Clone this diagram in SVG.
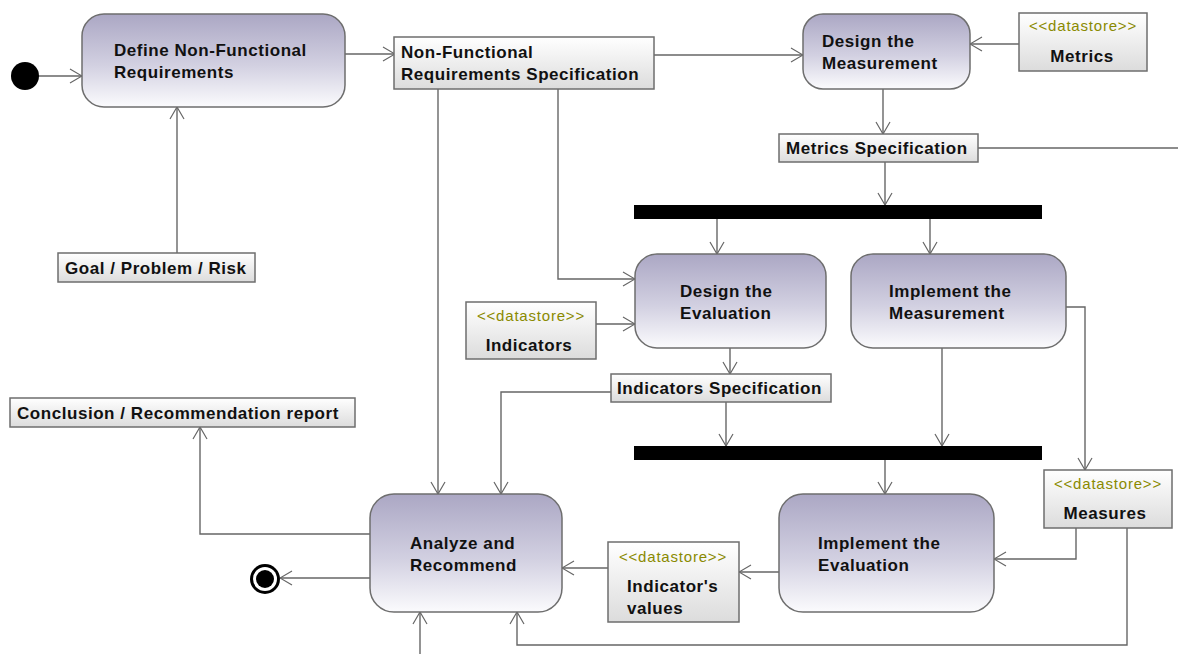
<svg xmlns="http://www.w3.org/2000/svg" width="1178" height="654" viewBox="0 0 1178 654">
  <defs>
    <linearGradient id="actGrad" x1="0" y1="0" x2="0" y2="1">
      <stop offset="0" stop-color="#aba7c4"/>
      <stop offset="0.55" stop-color="#d2d0e1"/>
      <stop offset="1" stop-color="#fbfbfd"/>
    </linearGradient>
    <linearGradient id="objGrad" x1="0" y1="0" x2="0" y2="1">
      <stop offset="0" stop-color="#ffffff"/>
      <stop offset="1" stop-color="#dcdcdc"/>
    </linearGradient>
    <marker id="open" viewBox="0 0 14 16" refX="13" refY="8" markerWidth="14" markerHeight="16" markerUnits="userSpaceOnUse" orient="auto">
      <path d="M1,1 L13,8 L1,15" fill="none" stroke="#666" stroke-width="1.2"/>
    </marker>
    <style>
      .act { fill: url(#actGrad); stroke: #6e6e6e; stroke-width: 1.5; }
      .obj { fill: url(#objGrad); stroke: #6e6e6e; stroke-width: 1.5; }
      .bar { fill: #000; }
      .lbl { font-family: "Liberation Sans", Arial, sans-serif; font-weight: bold; font-size: 17px; letter-spacing: 0.55px; fill: #111; }
      .st { font-family: "Liberation Sans", Arial, sans-serif; font-size: 15px; letter-spacing: 0.8px; fill: #8a8a00; }
      .edge { fill: none; stroke: #666; stroke-width: 1.4; }
      .arr { marker-end: url(#open); }
    </style>
  </defs>
  <rect width="1178" height="654" fill="#fff"/>

  <!-- connectors -->
  <g id="connectors">
    <path class="edge arr" d="M38,76 H82"/>
    <path class="edge arr" d="M345,54 H395"/>
    <path class="edge arr" d="M654,55 H803"/>
    <path class="edge arr" d="M1019,44 H970"/>
    <path class="edge arr" d="M883,89 V134"/>
    <path class="edge" d="M978,148 H1178"/>
    <path class="edge arr" d="M885,162 V205"/>
    <path class="edge arr" d="M717,219 V254"/>
    <path class="edge arr" d="M930,219 V254"/>
    <path class="edge arr" d="M596,324 H635"/>
    <path class="edge arr" d="M558,89 V279 H635"/>
    <path class="edge arr" d="M730,348 V374"/>
    <path class="edge arr" d="M726,402 V446"/>
    <path class="edge arr" d="M611,392 H501 V494"/>
    <path class="edge arr" d="M438,89 V494"/>
    <path class="edge arr" d="M942,348 V446"/>
    <path class="edge arr" d="M1066,307 H1085 V470"/>
    <path class="edge arr" d="M885,460 V494"/>
    <path class="edge arr" d="M1076,528 V559 H994"/>
    <path class="edge arr" d="M1127,528 V645 H517 V612"/>
    <path class="edge arr" d="M779,572 H739"/>
    <path class="edge arr" d="M608,568 H562"/>
    <path class="edge arr" d="M370,578 H280"/>
    <path class="edge arr" d="M370,534 H200 V427"/>
    <path class="edge arr" d="M420,654 V612"/>
    <path class="edge arr" d="M177,253 V107"/>
  </g>

  <!-- initial node -->
  <g id="initial">
    <circle cx="25" cy="76" r="14" fill="#000"/>
  </g>

  <!-- final node -->
  <g id="final">
    <circle cx="265" cy="579" r="15" fill="#000"/>
    <circle cx="265" cy="579" r="12" fill="#fff"/>
    <circle cx="265" cy="579" r="9" fill="#000"/>
  </g>

  <g id="define-nfr">
    <rect class="act" x="82" y="14" width="263" height="93" rx="22"/>
    <text class="lbl" x="114" y="56">Define Non-Functional</text>
    <text class="lbl" x="114" y="78">Requirements</text>
  </g>

  <g id="nfr-spec">
    <rect class="obj" x="394" y="37" width="260" height="52"/>
    <text class="lbl" x="401" y="58">Non-Functional</text>
    <text class="lbl" x="401" y="80">Requirements Specification</text>
  </g>

  <g id="design-measurement">
    <rect class="act" x="803" y="14" width="167" height="75" rx="20"/>
    <text class="lbl" x="822" y="47">Design  the</text>
    <text class="lbl" x="822" y="69">Measurement</text>
  </g>

  <g id="metrics">
    <rect class="obj" x="1019" y="13" width="128" height="58"/>
    <text class="st" x="1083" y="31" text-anchor="middle">&lt;&lt;datastore&gt;&gt;</text>
    <text class="lbl" x="1082" y="62" text-anchor="middle">Metrics</text>
  </g>

  <g id="metrics-spec">
    <rect class="obj" x="779" y="134" width="199" height="28"/>
    <text class="lbl" x="786" y="154">Metrics Specification</text>
  </g>

  <g id="fork1">
    <rect class="bar" x="634" y="205" width="408" height="14"/>
  </g>

  <g id="design-evaluation">
    <rect class="act" x="635" y="254" width="191" height="94" rx="22"/>
    <text class="lbl" x="680" y="297">Design the</text>
    <text class="lbl" x="680" y="319">Evaluation</text>
  </g>

  <g id="implement-measurement">
    <rect class="act" x="851" y="254" width="215" height="94" rx="22"/>
    <text class="lbl" x="889" y="297">Implement the</text>
    <text class="lbl" x="889" y="319">Measurement</text>
  </g>

  <g id="indicators">
    <rect class="obj" x="466" y="302" width="130" height="57"/>
    <text class="st" x="531" y="321" text-anchor="middle">&lt;&lt;datastore&gt;&gt;</text>
    <text class="lbl" x="529" y="351" text-anchor="middle">Indicators</text>
  </g>

  <g id="indicators-spec">
    <rect class="obj" x="611" y="374" width="220" height="28"/>
    <text class="lbl" x="617" y="394">Indicators Specification</text>
  </g>

  <g id="conclusion">
    <rect class="obj" x="10" y="398" width="345" height="29"/>
    <text class="lbl" x="17" y="419">Conclusion / Recommendation report</text>
  </g>

  <g id="goal">
    <rect class="obj" x="58" y="253" width="197" height="29"/>
    <text class="lbl" x="65" y="274">Goal / Problem / Risk</text>
  </g>

  <g id="fork2">
    <rect class="bar" x="634" y="446" width="408" height="14"/>
  </g>

  <g id="measures">
    <rect class="obj" x="1044" y="470" width="128" height="58"/>
    <text class="st" x="1108" y="489" text-anchor="middle">&lt;&lt;datastore&gt;&gt;</text>
    <text class="lbl" x="1105" y="519" text-anchor="middle">Measures</text>
  </g>

  <g id="implement-evaluation">
    <rect class="act" x="779" y="494" width="215" height="118" rx="24"/>
    <text class="lbl" x="818" y="549">Implement the</text>
    <text class="lbl" x="818" y="571">Evaluation</text>
  </g>

  <g id="indicator-values">
    <rect class="obj" x="608" y="542" width="131" height="80"/>
    <text class="st" x="673" y="562" text-anchor="middle">&lt;&lt;datastore&gt;&gt;</text>
    <text class="lbl" x="627" y="592">Indicator's</text>
    <text class="lbl" x="627" y="614">values</text>
  </g>

  <g id="analyze">
    <rect class="act" x="370" y="494" width="192" height="118" rx="24"/>
    <text class="lbl" x="410" y="549">Analyze and</text>
    <text class="lbl" x="410" y="571">Recommend</text>
  </g>
</svg>
